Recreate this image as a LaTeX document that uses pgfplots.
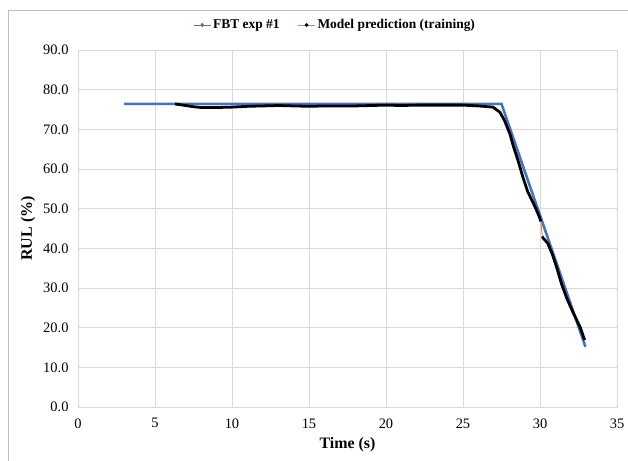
\documentclass[border=0pt]{standalone}
\usepackage{fontspec}
\setmainfont{Liberation Serif}
\usepackage{pgfplots}
\pgfplotsset{compat=1.18}
\definecolor{fbtblue}{HTML}{4472C4}
\definecolor{predorange}{HTML}{ED7D31}
\definecolor{gridgray}{HTML}{D9D9D9}
\definecolor{framegray}{HTML}{BFBFBF}

\begin{document}
\begin{tikzpicture}
\begin{axis}[
  name=ax, at={(0,0)}, anchor=south west,
  scale only axis, width=539bp, height=357bp,
  xmin=0, xmax=35, ymin=0, ymax=90,
  xtick={0,5,...,35}, ytick={0,10,...,90},
  grid=major, major grid style={gridgray, line width=0.8pt},
  axis line style={gridgray, line width=0.8pt},
  major tick length=0pt,
  tick label style={font=\fontsize{14.5}{16}\selectfont},
  /pgf/number format/assume math mode=true,
  yticklabel style={/pgf/number format/fixed, /pgf/number format/fixed zerofill,
    /pgf/number format/precision=1, xshift=-6bp},
  xticklabel style={yshift=-8bp},
  xlabel={\textbf{Time (s)}},
  ylabel={\textbf{RUL (\%)}},
  label style={font=\fontsize{16}{18}\selectfont},
  xlabel style={yshift=-2bp},
  ylabel style={yshift=1bp},
  legend columns=2,
  legend style={draw=none, fill=none, at={(0.477,1.07)}, anchor=center,
    font=\fontsize{13.5}{15}\selectfont\bfseries,
    /tikz/every even column/.append style={column sep=16bp}},
  legend cell align=left,
]
  % FBT experiment #1
  \addplot[fbtblue, line width=2.6pt, forget plot] coordinates {
    (3.0,76.4) (27.5,76.4) (32.95,15.2)
  };
  % small orange gap in the prediction
  \addplot[predorange, line width=0.9pt, forget plot] coordinates {
    (30.05,46.8) (30.15,43.0)
  };
  % model prediction (training)
  \addplot[black, line width=2.8pt, forget plot, line join=round, unbounded coords=jump] coordinates {
    (6.3,76.4) (7.0,76.0) (7.5,75.7) (8.0,75.5) (9.0,75.5) (10.0,75.6)
    (11.0,75.8) (12.0,75.9) (13.0,76.0) (14.0,75.9) (15.0,75.8) (16.0,75.9)
    (17.0,75.9) (18.0,75.9) (19.0,76.0) (20.0,76.1) (21.0,76.0) (22.0,76.1)
    (23.0,76.1) (24.0,76.1) (25.0,76.1) (26.0,75.9) (26.95,75.6) (27.4,74.3)
    (27.7,72.2) (28.05,68.8) (28.25,66.0) (28.6,61.8) (28.9,57.8) (29.2,54.3)
    (29.7,50.3) (29.95,48.0) (30.05,46.8)
    (30.1,nan)
    (30.15,43.0) (30.2,42.6) (30.5,41.3) (30.8,38.5) (31.1,35.0) (31.4,31.0)
    (31.75,27.3) (32.15,23.8) (32.6,20.2) (32.9,16.9)
  };
  \addlegendimage{fbtblue, line width=0.9pt, mark=diamond*, mark size=1.6pt}
  \addlegendentry{FBT exp \#1}
  \addlegendimage{predorange, line width=0.9pt, mark=*, mark size=1.4pt, mark options={black}}
  \addlegendentry{Model prediction (training)}
\end{axis}
\draw[framegray, line width=0.8pt] (-70bp,-80bp) -- (-70bp,397bp) -- (580bp,397bp);
\pgfresetboundingbox
\path (-78bp,-54bp) rectangle (550bp,407bp);
\end{tikzpicture}
\end{document}
